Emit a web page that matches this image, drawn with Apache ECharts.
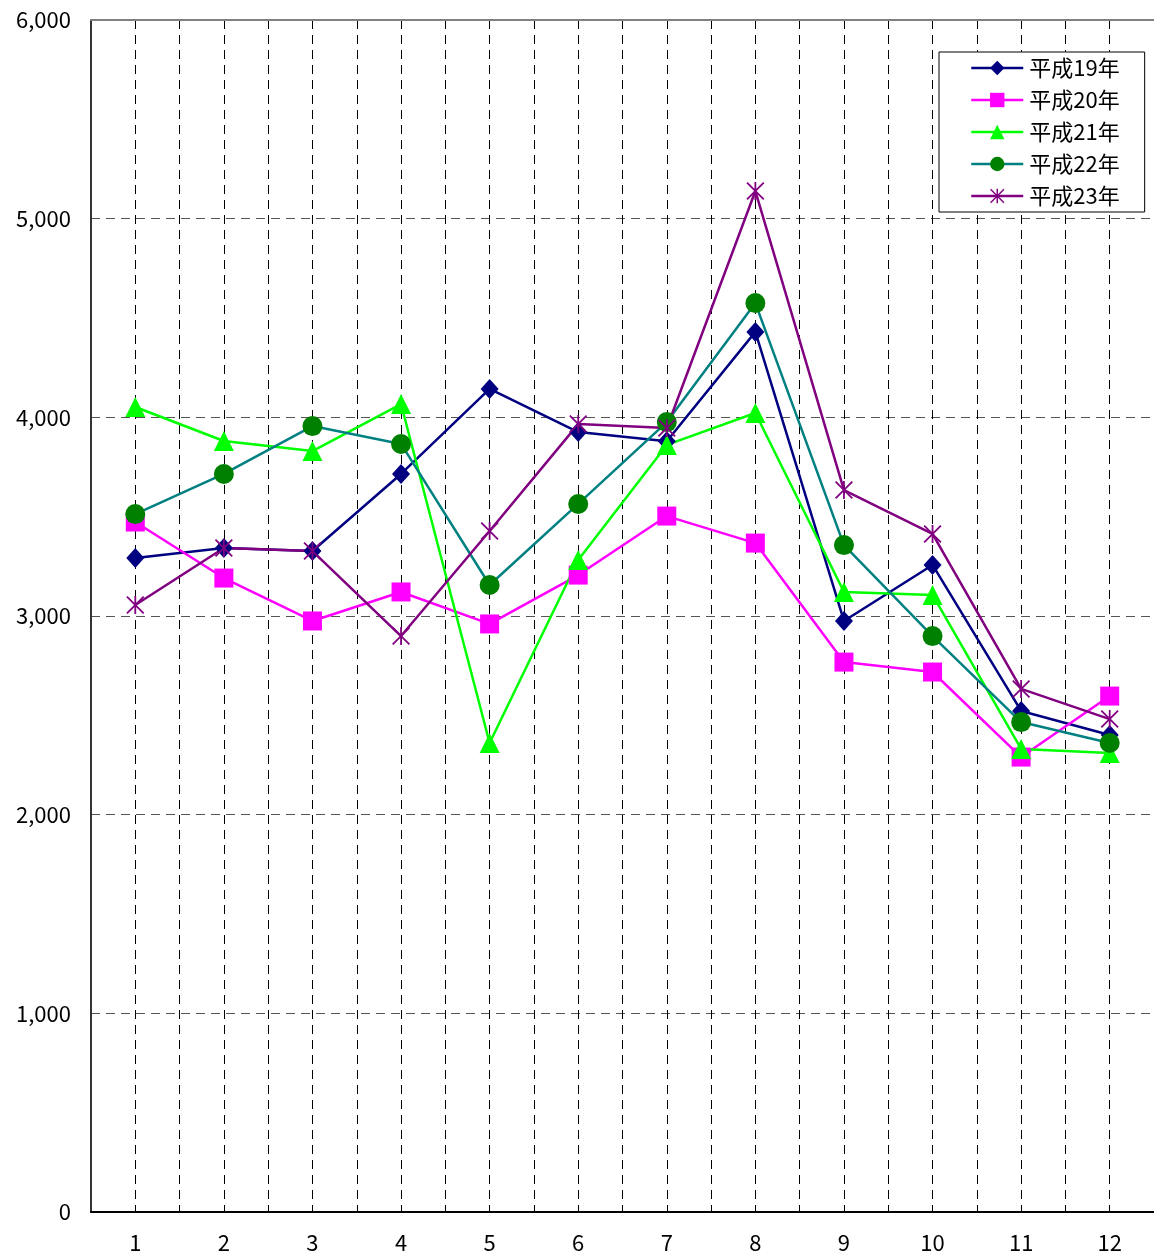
<!DOCTYPE html>
<html><head><meta charset="utf-8">
<script src="https://cdn.jsdelivr.net/npm/echarts@6/dist/echarts.min.js"></script>
<style>html,body{margin:0;padding:0;background:#fff}#c{width:1154px;height:1257px}</style>
</head><body><div id="c"></div>
<script>
const categories = ['1','2','3','4','5','6','7','8','9','10','11','12'];
const seriesNames = ['平成19年','平成20年','平成21年','平成22年','平成23年'];
const h19 = [3292,3342,3327,3715,4143,3926,3880,4430,2975,3257,2522,2401];
const h20 = [3473,3191,2975,3121,2960,3206,3503,3367,2768,2718,2290,2597];
const h21 = [4052,3881,3830,4067,2361,3282,3861,4022,3121,3106,2331,2310];
const h22 = [3513,3715,3956,3866,3156,3564,3976,4575,3357,2899,2466,2361];
const h23 = [3055,3342,3327,2899,3428,3966,3946,5139,3634,3413,2633,2481];
const yTicks = [0,1000,2000,3000,4000,5000,6000];

const star = 'path://M9,0L11,0L11,20L9,20Z M0,1.4L1.4,0L20,18.6L18.6,20Z M18.6,0L20,1.4L1.4,20L0,18.6Z';
const styles = [
  {line:'#000080', mark:'#000080', symbol:'diamond', size:[18,20]},
  {line:'#FF00FF', mark:'#FF00FF', symbol:'rect', size:19},
  {line:'#00FF00', mark:'#00FF00', symbol:'triangle', size:20},
  {line:'#008080', mark:'#008000', symbol:'circle', size:20},
  {line:'#800080', mark:'#800080', symbol:star, size:18}
];
const data = [h19,h20,h21,h22,h23];
const font = '"Noto Sans CJK JP", "Noto Sans", sans-serif';
const fmt = v => String(v).replace(/\B(?=(\d{3})+(?!\d))/g, ',');

const chart = echarts.init(document.getElementById('c'), null, {renderer:'canvas'});
chart.setOption({
  animation:false,
  backgroundColor:'#fff',
  grid:{left:91, top:20, width:1066, bottom:45, containLabel:false},
  xAxis:[
    {type:'category', data:categories, boundaryGap:true,
     axisLine:{lineStyle:{color:'#000', width:2}}, axisTick:{show:false},
     axisLabel:{color:'#000', fontSize:22, fontFamily:font, margin:20},
     splitLine:{show:false}},
    {type:'value', min:0, max:24, interval:1, position:'top',
     axisLine:{show:true, onZero:false, lineStyle:{color:'#808080', width:2}}, axisTick:{show:false}, axisLabel:{show:false},
     splitLine:{show:true, lineStyle:{color:'#000', type:[9,6], width:1}}}
  ],
  yAxis:{type:'value', min:yTicks[0], max:yTicks[yTicks.length-1], interval:1000,
    axisLine:{show:true, lineStyle:{color:'#333', width:2}}, axisTick:{show:false},
    axisLabel:{color:'#000', fontSize:22, fontFamily:font, margin:20, formatter:fmt},
    splitLine:{show:true, lineStyle:{color:'#555', type:[9,6], width:1}}},
  legend:{orient:'vertical', left:939, top:52,
    padding:[5,25,5,31], itemWidth:52, itemHeight:18, itemGap:10,
    borderColor:'#000', borderWidth:1, backgroundColor:'#fff',
    lineStyle:{width:2.5},
    textStyle:{color:'#000', fontSize:22, fontFamily:font, padding:[0,0,0,1], lineHeight:22},
    data:seriesNames},
  series:data.map((d,i)=>({
    name:seriesNames[i], type:'line', xAxisIndex:0, data:d,
    symbol:styles[i].symbol, symbolSize:styles[i].size, showAllSymbol:true,
    lineStyle:{color:styles[i].line, width:2.5},
    itemStyle:{color:styles[i].mark, borderWidth:0},
    emphasis:{disabled:true}
  }))
});
</script></body></html>
